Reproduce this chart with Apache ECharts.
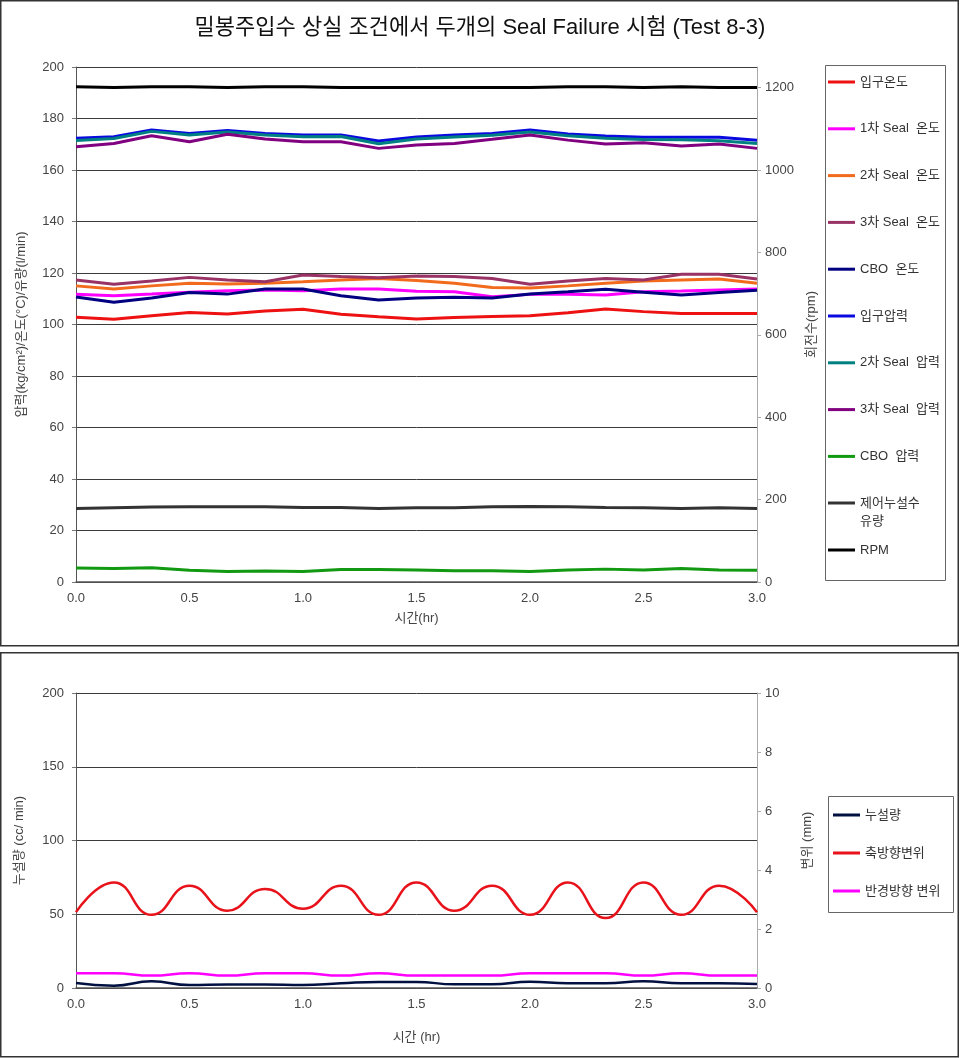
<!DOCTYPE html>
<html>
<head>
<meta charset="utf-8">
<script src="https://cdn.jsdelivr.net/npm/echarts@6/dist/echarts.min.js"></script>
<style>
	html, body { margin: 0; padding: 0; background: #fff; }
	#main { width: 960px; height: 1058px; }
</style>
</head>
<body>
<div id="main"></div>
<script>
const font = '"Liberation Sans", "Noto Sans CJK KR", sans-serif';

// time (hr)
const times = [0, 0.167, 0.333, 0.5, 0.667, 0.833, 1.0, 1.167, 1.333, 1.5, 1.667, 1.833, 2.0, 2.167, 2.333, 2.5, 2.667, 2.833, 3.0];

// top chart
const inletTemp = [102.8, 102.0, 103.4, 104.7, 104.1, 105.2, 105.9, 104.0, 103.0, 102.1, 102.7, 103.1, 103.4, 104.6, 106.0, 105.0, 104.3, 104.3, 104.3];
const seal1Temp = [111.7, 111.2, 111.8, 112.5, 113.1, 113.4, 113.1, 113.8, 113.8, 112.9, 112.7, 110.8, 111.7, 111.7, 111.5, 112.7, 113.0, 113.4, 113.8];
const seal2Temp = [115.0, 113.8, 115.0, 116.0, 115.7, 116.0, 116.6, 117.3, 117.9, 117.1, 116.0, 114.4, 114.2, 115.0, 116.0, 116.9, 117.3, 117.7, 116.0];
const seal3Temp = [117.3, 115.6, 116.9, 118.3, 117.3, 116.6, 119.2, 118.6, 118.2, 118.8, 118.6, 117.9, 115.6, 116.9, 117.9, 117.3, 119.5, 119.5, 117.7];
const cboTemp = [110.7, 108.6, 110.3, 112.4, 111.8, 113.8, 113.8, 111.2, 109.5, 110.3, 110.6, 110.3, 111.8, 112.7, 113.7, 112.5, 111.5, 112.4, 113.3];
const inletPress = [172.3, 172.9, 175.5, 174.2, 175.3, 174.2, 173.6, 173.6, 171.3, 172.8, 173.6, 174.2, 175.5, 174.0, 173.2, 172.7, 172.7, 172.7, 171.6];
const seal2Press = [171.5, 172.2, 175.0, 173.6, 174.8, 173.6, 172.9, 173.0, 170.2, 172.0, 172.8, 173.5, 174.8, 173.3, 172.3, 171.8, 171.7, 171.4, 170.3];
const seal3Press = [169.0, 170.3, 173.3, 171.0, 173.9, 172.0, 171.0, 171.0, 168.4, 169.7, 170.3, 171.9, 173.6, 171.6, 170.1, 170.6, 169.3, 170.1, 168.4];
const cboPress = [5.4, 5.2, 5.5, 4.6, 4.1, 4.3, 4.1, 4.9, 4.9, 4.7, 4.4, 4.4, 4.1, 4.7, 5.0, 4.7, 5.2, 4.7, 4.6];
const leakFlow = [28.5, 28.8, 29.1, 29.2, 29.2, 29.2, 28.9, 28.9, 28.5, 28.8, 28.8, 29.2, 29.3, 29.2, 28.9, 28.8, 28.5, 28.8, 28.5];
const rpm = [1202, 1200, 1202, 1202, 1200, 1202, 1202, 1200, 1200, 1200, 1200, 1200, 1200, 1202, 1202, 1200, 1202, 1200, 1200];

// bottom chart
const leakage = [3.4, 1.6, 4.5, 2.0, 2.3, 2.3, 2.0, 3.2, 4.1, 4.1, 2.5, 2.5, 4.3, 3.2, 3.2, 4.5, 3.2, 3.2, 2.7];
const axialDisp = [2.57, 3.58, 2.48, 3.47, 2.62, 3.36, 2.69, 3.47, 2.48, 3.58, 2.62, 3.47, 2.48, 3.58, 2.37, 3.58, 2.48, 3.47, 2.57];
const radialDisp = [0.5, 0.5, 0.42, 0.5, 0.42, 0.5, 0.5, 0.42, 0.5, 0.42, 0.42, 0.42, 0.5, 0.5, 0.5, 0.42, 0.5, 0.42, 0.42];

const topSeries = [
	{ name: '입구온도', data: inletTemp, color: '#ee1111', y: 0 },
	{ name: '1차 Seal  온도', data: seal1Temp, color: '#ff00ff', y: 0 },
	{ name: '2차 Seal  온도', data: seal2Temp, color: '#f26b1d', y: 0 },
	{ name: '3차 Seal  온도', data: seal3Temp, color: '#993366', y: 0 },
	{ name: 'CBO  온도', data: cboTemp, color: '#000080', y: 0 },
	{ name: '입구압력', data: inletPress, color: '#0a0ae0', y: 0 },
	{ name: '2차 Seal  압력', data: seal2Press, color: '#008080', y: 0 },
	{ name: '3차 Seal  압력', data: seal3Press, color: '#800080', y: 0 },
	{ name: 'CBO  압력', data: cboPress, color: '#119911', y: 0 },
	{ name: '제어누설수\n유량', data: leakFlow, color: '#333333', y: 0 },
	{ name: 'RPM', data: rpm, color: '#000000', y: 1 }
];
const bottomSeries = [
	{ name: '누설량', data: leakage, color: '#001040', y: 2 },
	{ name: '축방향변위', data: axialDisp, color: '#e8121a', y: 3 },
	{ name: '반경방향 변위', data: radialDisp, color: '#ff00ff', y: 3 }
];

const pairs = (values) => times.map((t, i) => [t, values[i]]);

const series = [
	...topSeries.map((s) => ({
		name: s.name,
		type: 'line',
		xAxisIndex: 0,
		yAxisIndex: s.y,
		data: pairs(s.data),
		showSymbol: false,
		color: s.color,
		lineStyle: { width: 3, color: s.color },
		animation: false
	})),
	...bottomSeries.map((s) => ({
		name: s.name,
		type: 'line',
		xAxisIndex: 1,
		yAxisIndex: s.y,
		data: pairs(s.data),
		smooth: 0.5,
		showSymbol: false,
		color: s.color,
		lineStyle: { width: 2.5, color: s.color },
		animation: false
	}))
];

const labelStyle = { color: '#444', fontSize: 13, fontFamily: font };
const nameStyle = { color: '#444', fontSize: 13, fontFamily: font };

const xAxisBase = (gridIndex, name, gap) => ({
	type: 'value',
	gridIndex,
	min: 0,
	max: 3,
	interval: 0.5,
	name,
	nameLocation: 'middle',
	nameGap: gap,
	nameTextStyle: nameStyle,
	axisLine: { lineStyle: { color: '#555', width: 1.5 } },
	axisTick: { show: false },
	axisLabel: { ...labelStyle, margin: 10, formatter: (v) => v.toFixed(1) },
	splitLine: { show: false }
});

const leftAxis = (gridIndex, max, interval, name, gap) => ({
	type: 'value',
	gridIndex,
	position: 'left',
	min: 0,
	max,
	interval,
	name,
	nameLocation: 'middle',
	nameGap: gap,
	nameTextStyle: nameStyle,
	axisLine: { show: true, lineStyle: { color: '#555' } },
	axisTick: { show: true, length: 4, lineStyle: { color: '#777' } },
	axisLabel: { ...labelStyle, margin: 12 },
	splitLine: { lineStyle: { color: '#3a3a3a', width: 1 } }
});

const rightAxis = (gridIndex, max, interval, name, gap) => ({
	type: 'value',
	gridIndex,
	position: 'right',
	min: 0,
	max,
	interval,
	name,
	nameLocation: 'middle',
	nameGap: gap,
	nameTextStyle: nameStyle,
	axisLine: { show: true, lineStyle: { color: '#aaa' } },
	axisTick: { show: true, length: 4, lineStyle: { color: '#aaa' } },
	axisLabel: { ...labelStyle, margin: 8, showMaxLabel: max % interval === 0, formatter: (v) => String(v) },
	splitLine: { show: false }
});

const legendBase = {
	orient: 'vertical',
	icon: 'rect',
	padding: 0,
	itemWidth: 27,
	itemHeight: 3,
	textStyle: { color: '#333', fontSize: 13, fontFamily: font, lineHeight: 18 }
};

const option = {
	backgroundColor: '#fff',
	animation: false,
	title: {
		text: '밀봉주입수 상실 조건에서 두개의 Seal Failure 시험 (Test 8-3)',
		left: 'center',
		top: 12,
		textStyle: { fontSize: 22, fontWeight: 'normal', color: '#111', fontFamily: font }
	},
	graphic: [
		{ type: 'rect', shape: { x: 0.75, y: 0.75, width: 957.5, height: 645 }, style: { fill: null, stroke: '#333', lineWidth: 1.5 }, silent: true },
		{ type: 'rect', shape: { x: 0.75, y: 652.75, width: 957.5, height: 404 }, style: { fill: null, stroke: '#333', lineWidth: 1.5 }, silent: true },
		{ type: 'rect', shape: { x: 825.5, y: 65.5, width: 120, height: 515 }, style: { fill: null, stroke: '#666', lineWidth: 1 }, silent: true },
		{ type: 'rect', shape: { x: 828.5, y: 796.5, width: 125, height: 116 }, style: { fill: null, stroke: '#666', lineWidth: 1 }, silent: true }
	],
	legend: [
		{ ...legendBase, left: 828, top: 73, itemGap: 28.8, data: topSeries.slice(0, 9).map((s) => s.name) },
		{
			...legendBase,
			left: 828,
			top: 476,
			data: [topSeries[9].name],
			// blank first line keeps the swatch level with the first text line
			formatter: (name) => ' \n' + name
		},
		{ ...legendBase, left: 828, top: 541, data: ['RPM'] },
		{ ...legendBase, left: 833, top: 806, itemGap: 20, data: bottomSeries.map((s) => s.name) }
	],
	grid: [
		{ left: 76, right: 203, top: 67, height: 515 },
		{ left: 76, right: 203, top: 693, height: 295 }
	],
	xAxis: [
		xAxisBase(0, '시간(hr)', 30),
		xAxisBase(1, '시간 (hr)', 43)
	],
	yAxis: [
		leftAxis(0, 200, 20, '압력(kg/cm²)/온도(°C)/유량(l/min)', 48),
		rightAxis(0, 1250, 200, '회전수(rpm)', 40),
		leftAxis(1, 200, 50, '누설량 (cc/ min)', 50),
		rightAxis(1, 10, 2, '변위 (mm)', 44)
	],
	series
};

const myChart = echarts.init(document.getElementById('main'), null, { renderer: 'canvas' });
myChart.setOption(option);
</script>
</body>
</html>
